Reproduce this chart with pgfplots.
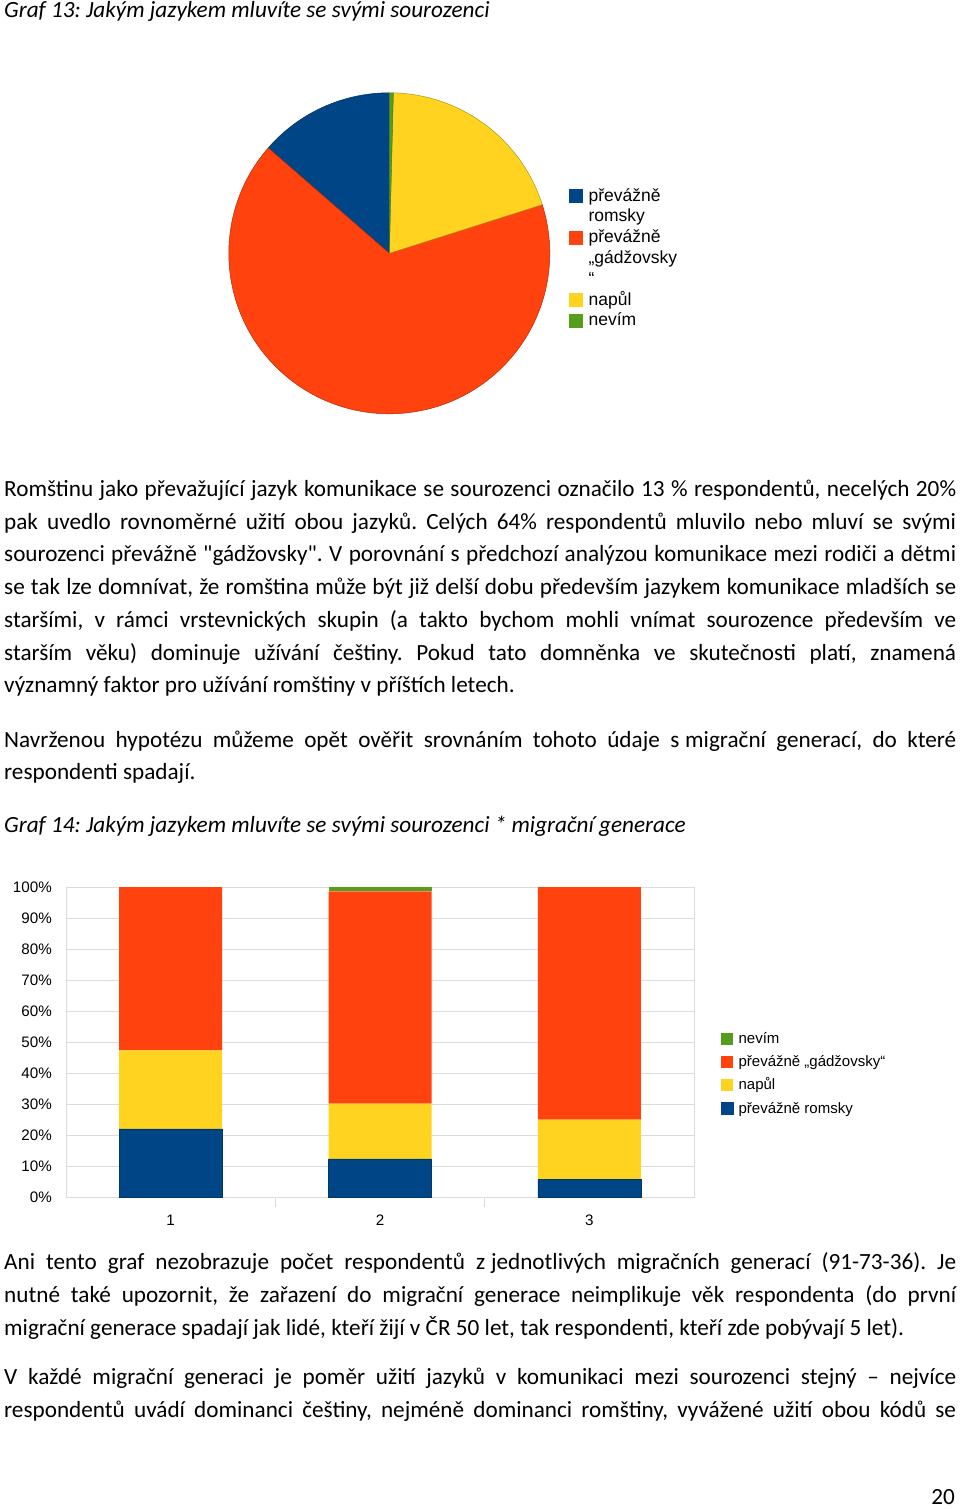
\documentclass[border=0pt]{standalone}
\usepackage{fontspec}
\setmainfont{Carlito}
\newfontfamily\arial{Liberation Sans}
\usepackage{pgfplots}
\usepackage{pgfplotstable}
\pgfplotsset{compat=1.18}
\definecolor{pblue}{HTML}{004586}
\definecolor{pred}{HTML}{FF420E}
\definecolor{pyellow}{HTML}{FFD320}
\definecolor{pgreen}{HTML}{579D1C}
\definecolor{gridc}{HTML}{DCDCDC}
\frenchspacing

\pgfplotstableread{
gen romsky napul gadzo nevim
1 22.0 25.3 52.7 0
2 12.3 17.8 68.5 1.4
3 5.6 19.4 75.0 0
}\bardata

\newcommand\body{\fontsize{23.2}{32.7}\selectfont}
\newcommand\jl[1]{\makebox[952pt][s]{#1}}
\newcommand\txl[2]{\node[anchor=base west, inner sep=0pt, font=\body] at (4pt,-#1pt) {#2};}

\begin{document}
\begin{tikzpicture}
\useasboundingbox (0,0) rectangle (960pt,-1509pt);
\fill[white] (0,0) rectangle (960pt,-1509pt);

\node[anchor=base west, inner sep=0pt, font=\body\itshape] at (4pt,-18pt) {Graf 13: Jakým jazykem mluvíte se svými sourozenci};

% ---------- pie ----------
\begin{axis}[at={(389.3pt,-253.3pt)}, anchor=center, hide axis,
  x=160.5pt, y=160.5pt, xmin=-1, xmax=1, ymin=-1, ymax=1, clip=false,
  legend style={at={(1.0598,0.7035)}, anchor=north west, draw=none, fill=none,
    inner sep=0pt, row sep=3.8pt, column sep=6pt,
    nodes={inner sep=0pt, text height=13pt, text depth=4pt, font=\arial\fontsize{17.5}{20.8}\selectfont}},
  legend cell align=left]
\fill[pblue, draw=pblue!70!black, line width=0.5pt] (axis cs:0,0) -- (axis cs:{cos(90)},{sin(90)})
  arc[start angle=90, delta angle=3.6*13.6, radius=160.5pt] -- cycle;
\fill[pred, draw=pred!70!black, line width=0.5pt] (axis cs:0,0) -- (axis cs:{cos(90+3.6*13.6)},{sin(90+3.6*13.6)})
  arc[start angle=90+3.6*13.6, delta angle=3.6*66.3, radius=160.5pt] -- cycle;
\fill[pyellow, draw=pyellow!70!black, line width=0.5pt] (axis cs:0,0) -- (axis cs:{cos(90+3.6*79.9)},{sin(90+3.6*79.9)})
  arc[start angle=90+3.6*79.9, delta angle=3.6*19.7, radius=160.5pt] -- cycle;
\fill[pgreen, draw=pgreen!70!black, line width=0.3pt] (axis cs:0,0) -- (axis cs:{cos(90+3.6*99.6)},{sin(90+3.6*99.6)})
  arc[start angle=90+3.6*99.6, delta angle=3.6*0.4, radius=160.5pt] -- cycle;
\addlegendimage{legend image code/.code={\fill[pblue] (0pt,-5.5pt) rectangle (13pt,7.5pt);}}
\addlegendentry{převážně}
\addlegendimage{legend image code/.code={}}
\addlegendentry{romsky}
\addlegendimage{legend image code/.code={\fill[pred] (0pt,-5.5pt) rectangle (13pt,7.5pt);}}
\addlegendentry{převážně}
\addlegendimage{legend image code/.code={}}
\addlegendentry{„gádžovsky}
\addlegendimage{legend image code/.code={}}
\addlegendentry{“}
\addlegendimage{legend image code/.code={\fill[pyellow] (0pt,-5.5pt) rectangle (13pt,7.5pt);}}
\addlegendentry{napůl}
\addlegendimage{legend image code/.code={\fill[pgreen] (0pt,-5.5pt) rectangle (13pt,7.5pt);}}
\addlegendentry{nevím}
\end{axis}

% ---------- text ----------
\txl{496.5}{\jl{Romštinu jako převažující jazyk komunikace se sourozenci označilo 13 \% respondentů, necelých 20\%}}
\txl{529.2}{\jl{pak uvedlo rovnoměrné užití obou jazyků. Celých 64\% respondentů mluvilo nebo mluví se svými}}
\txl{561.9}{\jl{sourozenci převážně \textquotedbl gádžovsky\textquotedbl. V porovnání s předchozí analýzou komunikace mezi rodiči a dětmi}}
\txl{594.6}{\jl{se tak lze domnívat, že romština může být již delší dobu především jazykem komunikace mladších se}}
\txl{627.3}{\jl{staršími, v rámci vrstevnických skupin (a takto bychom mohli vnímat sourozence především ve}}
\txl{660.0}{\jl{starším věku) dominuje užívání češtiny. Pokud tato domněnka ve skutečnosti platí, znamená}}
\txl{692.7}{významný faktor pro užívání romštiny v příštích letech.}
\txl{747.2}{\jl{Navrženou hypotézu můžeme opět ověřit srovnáním tohoto údaje s\hspace{0.25em}migrační generací, do které}}
\txl{779.9}{respondenti spadají.}
\node[anchor=base west, inner sep=0pt, font=\body\itshape] at (4pt,-832.5pt) {Graf 14: Jakým jazykem mluvíte se svými sourozenci * migrační generace};

% ---------- bars ----------
\begin{axis}[at={(66pt,-1197pt)}, anchor=south west,
  scale only axis, width=628pt, height=310pt,
  ybar stacked, bar width=103pt,
  xmin=0.5, xmax=3.5, ymin=0, ymax=100,
  xtick={1,2,3}, xticklabels={1,2,3},
  ytick={0,10,...,100},
  yticklabel={\pgfmathprintnumber{\tick}\%},
  /pgf/number format/assume math mode=true,
  tick label style={font=\arial\fontsize{15.2}{18}\selectfont},
  yticklabel style={anchor=east, inner sep=0pt, xshift=-14pt},
  xticklabel style={anchor=north, inner sep=0pt, yshift=-18pt},
  tick style={draw=none},
  xtick pos=lower, ytick pos=left,
  extra x ticks={1.5,2.5}, extra x tick labels={},
  extra x tick style={tick style={draw=gridc, line width=0.8pt}, major tick length=10pt, tick align=outside, xtick pos=lower},
  ymajorgrids, grid style={gridc, line width=0.8pt},
  axis line style={gridc, line width=0.8pt},
  legend style={at={(1.043,0.5323)}, anchor=north west, draw=none, fill=none,
    inner sep=0pt, row sep=8.3pt, column sep=5pt,
    nodes={inner sep=0pt, text height=11pt, text depth=4pt, font=\arial\fontsize{15}{18}\selectfont}},
  legend cell align=left, reverse legend]
\addplot[fill=pblue, draw=pblue!80!black, line width=0.4pt, legend image code/.code={\fill[pblue] (0pt,-5pt) rectangle (12pt,7pt);}] table[x=gen, y=romsky] {\bardata};
\addlegendentry{převážně romsky}
\addplot[fill=pyellow, draw=none, legend image code/.code={\fill[pyellow] (0pt,-5pt) rectangle (12pt,7pt);}] table[x=gen, y=napul] {\bardata};
\addlegendentry{napůl}
\addplot[fill=pred, draw=none, legend image code/.code={\fill[pred] (0pt,-5pt) rectangle (12pt,7pt);}] table[x=gen, y=gadzo] {\bardata};
\addlegendentry{převážně „gádžovsky“}
\addplot[fill=pgreen, draw=none, legend image code/.code={\fill[pgreen] (0pt,-5pt) rectangle (12pt,7pt);}] table[x=gen, y=nevim] {\bardata};
\addlegendentry{nevím}
\end{axis}

% ---------- text below ----------
\txl{1269.8}{\jl{Ani tento graf nezobrazuje počet respondentů z\hspace{0.25em}jednotlivých migračních generací (91-73-36). Je}}
\txl{1302.5}{\jl{nutné také upozornit, že zařazení do migrační generace neimplikuje věk respondenta (do první}}
\txl{1335.2}{migrační generace spadají jak lidé, kteří žijí v ČR 50 let, tak respondenti, kteří zde pobývají 5 let).}
\txl{1384.8}{\jl{V každé migrační generaci je poměr užití jazyků v komunikaci mezi sourozenci stejný – nejvíce}}
\txl{1417.5}{\jl{respondentů uvádí dominanci češtiny, nejméně dominanci romštiny, vyvážené užití obou kódů se}}
\node[anchor=base east, inner sep=0pt, font=\body] at (955pt,-1504pt) {20};
\end{tikzpicture}
\end{document}
